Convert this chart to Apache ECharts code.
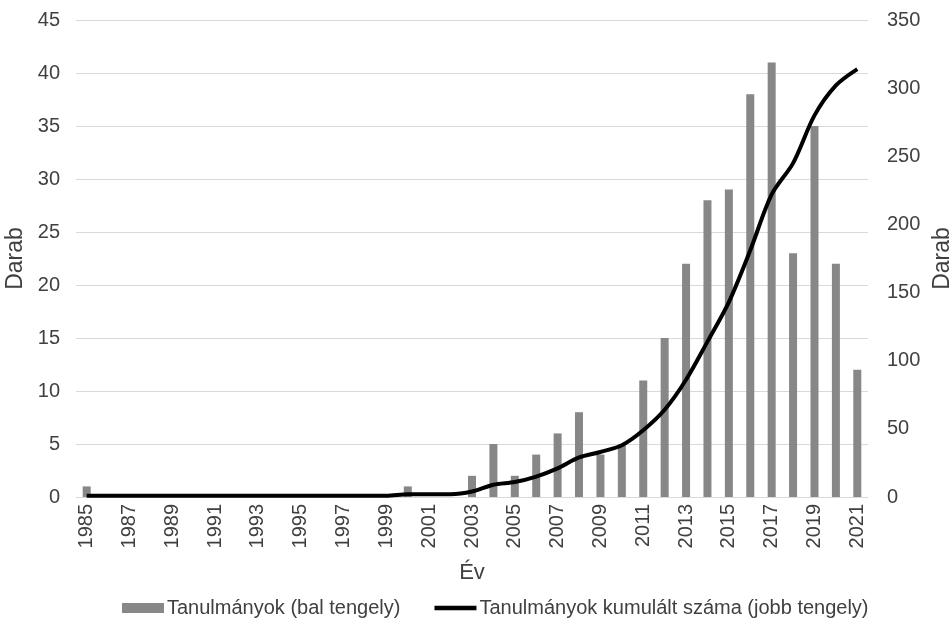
<!DOCTYPE html>
<html lang="hu" style="height: 100%">
<head>
  <meta charset="utf-8">
</head>
<body style="height: 100%; margin: 0; background: #fff">
<div id="container" style="width: 952px; height: 624px"></div>

<script type="text/javascript" src="https://cdn.jsdelivr.net/npm/echarts@6/dist/echarts.min.js"></script>

<script type="text/javascript">
  var years = [];
  for (var y = 1985; y <= 2021; y++) years.push(String(y));

  // studies per year (left axis)
  var studies = [1, 0, 0, 0, 0, 0, 0, 0, 0, 0, 0, 0, 0, 0, 0,
                 1, 0, 0, 2, 5, 2, 4, 6, 8, 4, 5, 11, 15, 22, 28,
                 29, 38, 41, 23, 35, 22, 12];
  // cumulative count (right axis)
  var cumulative = [1, 1, 1, 1, 1, 1, 1, 1, 1, 1, 1, 1, 1, 1, 1,
                    2, 2, 2, 4, 9, 11, 15, 21, 29, 33, 38, 49, 64, 86, 114,
                    143, 181, 222, 245, 280, 302, 314];

  var txt = '#404040';
  var font = 'Liberation Sans';

  var dom = document.getElementById('container');
  var myChart = echarts.init(dom, null, { renderer: 'canvas' });

  var option = {
    backgroundColor: '#fff',
    animation: false,
    textStyle: { fontFamily: font, color: txt },
    grid: { left: 76, right: 84, top: 20, bottom: 127, outerBoundsMode: 'none', containLabel: false },
    legend: {
      bottom: 1,
      left: 117,
      itemGap: 34,
      itemWidth: 42,
      itemHeight: 10,
      textStyle: { fontFamily: font, fontSize: 20, color: txt, padding: [0, 0, 0, -2] },
      data: [
        { name: 'Tanulmányok (bal tengely)', icon: 'rect' },
        { name: 'Tanulmányok kumulált száma (jobb tengely)', icon: 'path://M0,0 L42,0 L42,4.5 L0,4.5 Z' }
      ]
    },
    xAxis: {
      type: 'category',
      data: years,
      name: 'Év',
      nameLocation: 'middle',
      nameGap: 65,
      nameTextStyle: { fontSize: 22, color: txt },
      axisTick: { show: false },
      axisLine: { lineStyle: { color: '#d9d9d9', width: 1 } },
      axisLabel: { rotate: 90, interval: 1, fontSize: 20, color: txt, margin: 7 }
    },
    yAxis: [
      {
        type: 'value',
        min: 0, max: 45, interval: 5,
        name: 'Darab',
        nameLocation: 'middle',
        nameGap: 45,
        nameTextStyle: { fontSize: 23, color: txt },
        axisLabel: { fontSize: 20, color: txt, margin: 16 },
        splitLine: { lineStyle: { color: '#d9d9d9', width: 1 } }
      },
      {
        type: 'value',
        min: 0, max: 350, interval: 50,
        name: 'Darab',
        nameLocation: 'middle',
        nameGap: 56,
        nameTextStyle: { fontSize: 23, color: txt },
        axisLabel: { fontSize: 20, color: txt, margin: 19 },
        splitLine: { show: false }
      }
    ],
    series: [
      {
        name: 'Tanulmányok (bal tengely)',
        type: 'bar',
        yAxisIndex: 0,
        data: studies,
        barWidth: 8,
        itemStyle: { color: '#878787' }
      },
      {
        name: 'Tanulmányok kumulált száma (jobb tengely)',
        type: 'line',
        yAxisIndex: 1,
        data: cumulative,
        smooth: 0.3,
        showSymbol: false,
        lineStyle: { color: '#000', width: 4 },
        itemStyle: { color: '#000' }
      }
    ]
  };

  myChart.setOption(option);
  window.addEventListener('resize', myChart.resize);
</script>
</body>
</html>
